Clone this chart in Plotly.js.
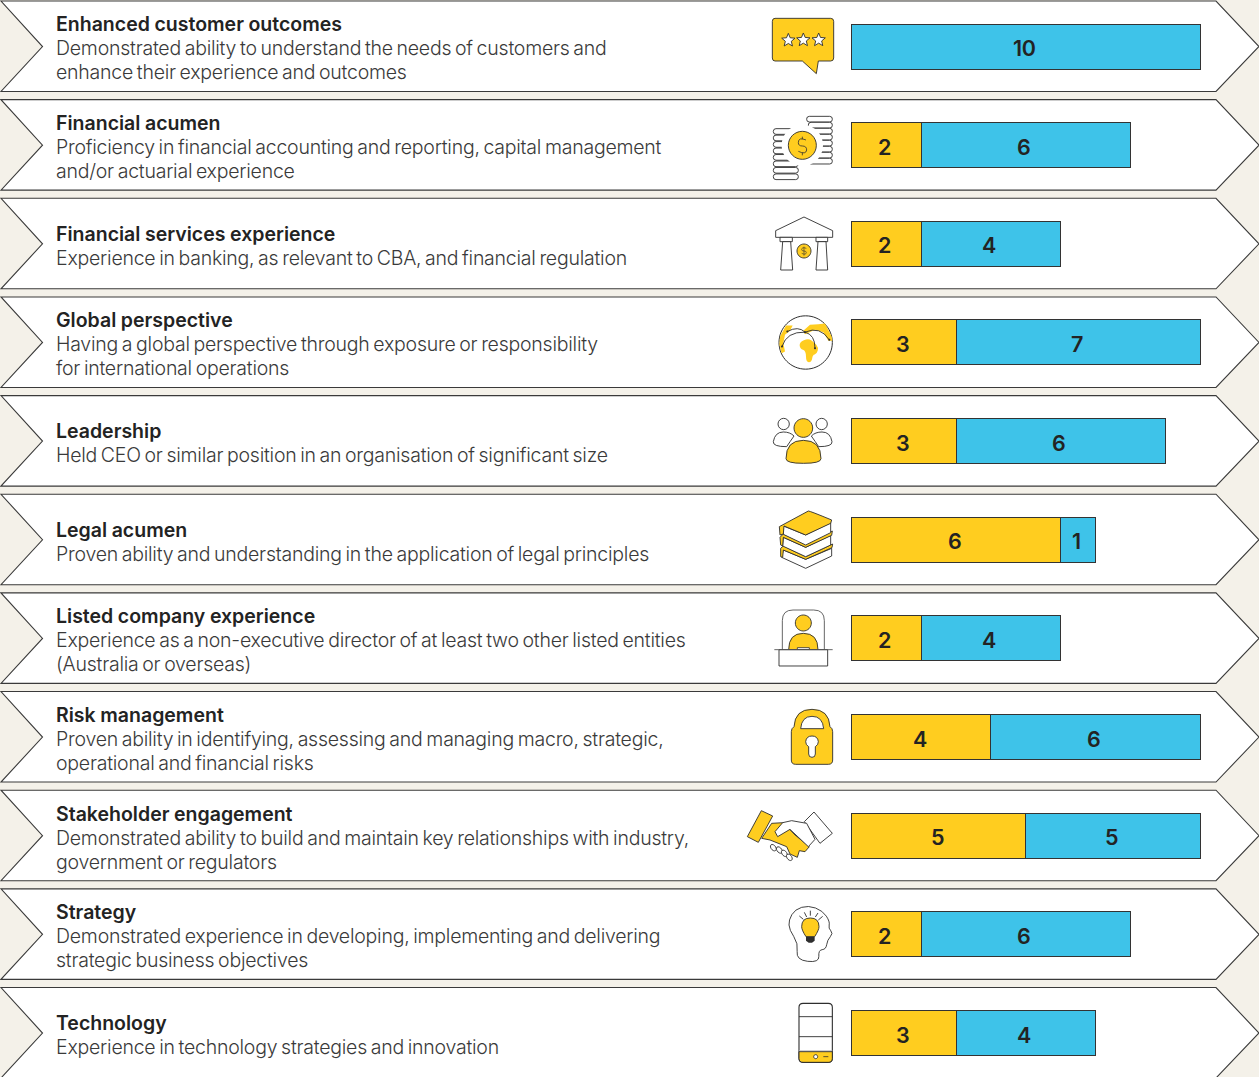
<!DOCTYPE html>
<html><head><meta charset="utf-8">
<script src="https://cdn.plot.ly/plotly-3.0.1.min.js"></script>
<style>html,body{margin:0;padding:0;background:#F4F1E9;overflow:hidden}
.annotation-text{letter-spacing:-0.23px;word-spacing:-1.5px}</style>
</head><body><div id="chart" style="width:1259px;height:1077px"></div>
<script>
const categories=["Enhanced customer outcomes","Financial acumen","Financial services experience","Global perspective","Leadership","Legal acumen","Listed company experience","Risk management","Stakeholder engagement","Strategy","Technology"];
const goldValues=[null,2,2,3,3,6,2,4,5,2,3];
const blueValues=[10,6,4,7,6,1,4,6,5,6,4];
const descLine1=["Demonstrated ability to understand the needs of customers and","Proficiency in financial accounting and reporting, capital management","Experience in banking, as relevant to CBA, and financial regulation","Having a global perspective through exposure or responsibility","Held CEO or similar position in an organisation of significant size","Proven ability and understanding in the application of legal principles","Experience as a non-executive director of at least two other listed entities","Proven ability in identifying, assessing and managing macro, strategic,","Demonstrated ability to build and maintain key relationships with industry,","Demonstrated experience in developing, implementing and delivering","Experience in technology strategies and innovation"];
const descLine2=["enhance their experience and outcomes","and/or actuarial experience","","for international operations","","","(Australia or overseas)","operational and financial risks","government or regulators","strategic business objectives",""];

const W=1259,H=1077,GOLD='#FFCD1F',BLUE='#3EC3E9',INK='#2E2E2E',FONT='Inter, Arial, sans-serif';
const ROW_PITCH=98.65,ROW_TOP=1,ROW_H=90.5,BAR_CENTRE=46.5,UNIT=34.85,BAR_X0=851.5;
const shapes=[],annotations=[];
const none='rgba(0,0,0,0)';
function conv(d,ox,oy,s){
  const t=d.match(/[MLCQZ]|-?[\d.]+/g);let out='',isX=true;
  for(const k of t){
    if(/[MLCQZ]/.test(k)){out+=k;isX=true;continue;}
    const v=parseFloat(k);
    if(isX){out+=((ox+v*s)/W).toFixed(5)+',';}else{out+=(1-(oy+v*s)/H).toFixed(5)+' ';}
    isX=!isX;
  }
  return out;
}
function add(o,d,fill,lw,col){
  shapes.push({type:'path',xref:'paper',yref:'paper',layer:'below',path:conv(d,o[0],o[1],o[2]),
    fillcolor:fill||none,line:{color:col||INK,width:lw===undefined?.9:lw}});
}
function circ(cx,cy,r,ry){ry=ry||r;const k=.5523;return `M${cx-r} ${cy}C${cx-r} ${cy-k*ry} ${cx-k*r} ${cy-ry} ${cx} ${cy-ry}C${cx+k*r} ${cy-ry} ${cx+r} ${cy-k*ry} ${cx+r} ${cy}C${cx+r} ${cy+k*ry} ${cx+k*r} ${cy+ry} ${cx} ${cy+ry}C${cx-k*r} ${cy+ry} ${cx-r} ${cy+k*ry} ${cx-r} ${cy}Z`;}
function rrect(x0,y0,x1,y1,r){return `M${x0+r} ${y0}L${x1-r} ${y0}Q${x1} ${y0} ${x1} ${y0+r}L${x1} ${y1-r}Q${x1} ${y1} ${x1-r} ${y1}L${x0+r} ${y1}Q${x0} ${y1} ${x0} ${y1-r}L${x0} ${y0+r}Q${x0} ${y0} ${x0+r} ${y0}Z`;}
function poly(p){return 'M'+p.map(q=>q.join(' ')).join('L')+'Z';}
function smooth(p){const n=p.length,m=(a,b)=>[(a[0]+b[0])/2,(a[1]+b[1])/2];let s=m(p[n-1],p[0]);let d=`M${s[0]} ${s[1]}`;for(let i=0;i<n;i++){const e=m(p[i],p[(i+1)%n]);d+=`Q${p[i][0]} ${p[i][1]} ${e[0]} ${e[1]}`;}return d+'Z';}
function star(cx,cy,r){const p=[];for(let i=0;i<10;i++){const a=-Math.PI/2+i*Math.PI/5,q=i%2?r*.45:r;p.push([cx+q*Math.cos(a),cy+q*Math.sin(a)]);}return poly(p);}
function tiltEllipse(cx,cy,a,b,rot){const p=[];for(let i=0;i<14;i++){const t=i/14*2*Math.PI,x=a*Math.cos(t),y=b*Math.sin(t);p.push([cx+x*Math.cos(rot)-y*Math.sin(rot),cy+x*Math.sin(rot)+y*Math.cos(rot)]);}return poly(p);}

categories.forEach((c,i)=>{
  const t=ROW_TOP+i*ROW_PITCH,b=t+ROW_H,m=t+45.5;
  add([0,0,1],`M1 ${t}L1216 ${t}L1259 ${m}L1216 ${b}L1 ${b}L42.5 ${m}Z`,'#FFFFFF',1.1,'#3A3A3A');
  const lines=descLine2[i]?[descLine1[i],descLine2[i]]:[descLine1[i]];
  const y0=t+(lines.length===2?23.5:35.5);
  annotations.push({xref:'paper',yref:'paper',x:54/W,y:1-y0/H,xanchor:'left',yanchor:'middle',showarrow:false,
    text:'<span style="letter-spacing:0px;word-spacing:-0.3px">'+c+'</span>',font:{family:FONT,size:19.5,color:'#232323',weight:600}});
  lines.forEach((l,j)=>annotations.push({xref:'paper',yref:'paper',x:54/W,y:1-(y0+24*(j+1))/H,xanchor:'left',yanchor:'middle',showarrow:false,text:l,font:{family:FONT,size:19.5,color:'#3A3A3A',weight:300}}));
  const g=goldValues[i]||0,bl=blueValues[i];
  const lab=(x,v)=>annotations.push({xref:'x',yref:'y',x:x,y:c,xanchor:'center',yanchor:'middle',xshift:-1.5,yshift:-1.5,showarrow:false,text:String(v),font:{family:FONT,size:21.5,color:'#232323',weight:600}});
  if(goldValues[i])lab(g/2,g);
  lab(g+bl/2,bl);
});

let o=[740,0,1/3];
add(o,`M105 55L272 55Q281 55 281 64L281 174Q281 183 272 183L235 183L229 221L187 183L105 183Q97 183 97 174L97 64Q97 55 105 55Z`,GOLD);
[[145,121],[190,120],[236,120]].forEach(s=>add(o,star(s[0],s[1],21),'#FFFFFF',.9));
for(let k=0;k<8;k++)add(o,rrect(k?205:200,349+18*k,277,366+18*k,8),'#FFFFFF',.9);
for(let k=0;k<8;k++)add(o,rrect(100,386+19.4*k,175,386+19.4*k+17,8),'#FFFFFF',.9);
add(o,circ(187,436,62),'#FFFFFF',0);
add(o,circ(187,436,42),GOLD);
add(o,`M198 420Q175 410 175 428Q175 438 187 438Q200 438 200 450Q198 465 175 454M187 410L187 418M187 458L187 466`,none,.8);
add(o,poly([[107,692],[192,651],[278,692],[278,712],[107,712]]),'#FFFFFF');
add(o,poly([[120,712],[157,712],[157,725],[120,725]]),'#FFFFFF');
add(o,poly([[228,712],[263,712],[263,725],[228,725]]),'#FFFFFF');
add(o,poly([[128,725],[152,725],[158,810],[122,810]]),'#FFFFFF');
add(o,poly([[234,725],[258,725],[263,810],[228,810]]),'#FFFFFF');
add(o,circ(192,753,21),GOLD);
add(o,`M199 745Q185 740 185 749Q185 753 192 753Q199 753 199 758Q198 766 185 760M192 740L192 767`,none,.6);
// globe
o=[770,311.5,1/3];
add(o,circ(107,93,80),'#FFFFFF',1);
add(o,poly([[100,58],[120,40],[145,38],[165,36],[185,75],[187,88],[175,88],[160,62],[135,55],[105,68]]),GOLD,0);
add(o,poly([[28,100],[30,75],[48,42],[68,42],[60,58],[45,70],[40,95],[45,120],[35,125]]),GOLD,0);
add(o,smooth([[88,92],[115,80],[132,92],[146,108],[140,128],[128,130],[125,152],[108,152],[108,118],[90,112]]),GOLD,0);
add(o,`M36 105Q50 60 105 62`,none,.9);
add(o,`M52 60Q85 42 105 62`,none,.9);
add(o,`M105 62Q150 42 178 85`,none,.9);
add(o,`M105 62Q135 70 135 110`,none,.9);
[[36,105],[52,60],[105,62],[178,85],[135,110]].forEach(p=>add(o,circ(p[0],p[1],3),INK,0));
// people
o=[740,300,1/3];
add(o,`M100 425Q105 396 130 396Q150 396 162 408Q150 425 140 440Q98 440 100 425Z`,'#FFFFFF');
add(o,`M276 425Q271 396 246 396Q226 396 214 408Q226 425 236 440Q278 440 276 425Z`,'#FFFFFF');
add(o,circ(131,372,17),'#FFFFFF');
add(o,circ(245,372,17),'#FFFFFF');
add(o,`M138 476Q138 421 190 421Q243 421 243 476Q243 490 190 490Q138 490 138 476Z`,GOLD);
add(o,circ(190,384,28),GOLD);
// books
add(o,poly([[130,750],[197,778],[275,745],[275,768],[197,805],[125,772]]),'#FFFFFF');
add(o,poly([[122,745],[130,738],[197,770],[278,732],[276,743],[197,778],[130,750],[128,772],[122,770]]),GOLD,.9);
add(o,poly([[130,712],[197,742],[272,706],[272,735],[197,770],[128,738]]),'#FFFFFF');
add(o,poly([[120,712],[130,702],[197,732],[277,693],[275,706],[197,742],[130,712],[128,738],[122,735]]),GOLD,.9);
add(o,poly([[130,703],[197,735],[272,698],[272,668],[197,705],[130,678]]),'#FFFFFF');
add(o,`M118 680L205 633Q210 633 275 660L272 670L197 705L132 678L130 702L120 705Z`,GOLD,.9);
// listed company
o=[745,600,1/3];
add(o,`M112 149L112 62Q112 30 144 30L206 30Q238 30 238 62L238 149`,'#FFFFFF',.9,'#555');
add(o,circ(175,69,24),GOLD);
add(o,`M131 149Q131 100 175 100Q219 100 219 149Z`,GOLD);
add(o,poly([[157,143],[193,143],[193,149],[157,149]]),'#FFFFFF',.8);
add(o,poly([[102,149],[248,149],[248,198],[102,198]]),'#FFFFFF');
add(o,`M88 149L263 149`,none,.9,'#555');
// lock
add(o,`M139 480L139 395Q139 385 147 380Q150 328 201 328Q252 328 255 380Q263 385 263 395L263 480Q263 493 250 493L152 493Q139 493 139 480Z`,GOLD);
add(o,`M167 386Q170 349 201 349Q233 349 236 386Z`,'#FFFFFF');
add(o,`M191 440Q182 435 182 425Q184 408 201 408Q218 408 220 425Q220 435 211 440L211 462Q211 472 201 472Q191 472 191 462Z`,'#FFFFFF');
// handshake
o=[740,780,1/3];
add(o,poly([[95,130],[130,128],[165,165],[208,200],[195,215],[178,212],[172,232],[150,222],[140,200],[90,180],[65,175]]),GOLD,.9);
add(o,poly([[64,92],[98,108],[55,187],[22,170]]),GOLD,.9);
add(o,poly([[222,96],[277,160],[240,190],[193,125]]),'#FFFFFF',.9);
add(o,poly([[200,130],[155,122],[128,128],[105,155],[113,170],[150,148],[205,200],[225,178]]),'#FFFFFF',.9);
[[100,203],[118,210],[133,220],[148,232]].forEach(p=>add(o,tiltEllipse(p[0],p[1],11,7,.9),'#FFFFFF',.9));
// head and bulb
add(o,smooth([[168,540],[175,490],[148,450],[146,420],[165,388],[205,376],[248,392],[270,425],[265,445],[280,460],[262,480],[258,508],[235,510],[238,548]]),'#FFFFFF',.9);
add(o,`M198 470Q185 450 185 440Q185 414 211 414Q237 414 237 440Q237 450 224 470Z`,GOLD);
add(o,`M198 470L224 470L224 482L216 488L206 488L198 482Z`,INK,0);
add(o,`M178 408L190 418M193 397L200 411M211 392L211 407M234 399L226 411M248 409L235 420`,none,.9);
// phone
add(o,rrect(177,670,277,847,12),'#FFFFFF',1.1);
add(o,`M177 815L277 815L277 835Q277 847 265 847L189 847Q177 847 177 835Z`,GOLD,1);
add(o,`M177 710L277 710M177 770L277 770`,none,.9);
add(o,`M177 812L277 812`,none,.8,'#BBB');
add(o,circ(227,830,6),'#FFFFFF',.9);
add(o,`M250 830L265 830`,none,.8);

const common={type:'bar',orientation:'h',y:categories,width:45/ROW_PITCH,textposition:'none',cliponaxis:false,hoverinfo:'skip',showlegend:false};
const traces=[
  Object.assign({},common,{name:'Gold',x:goldValues,marker:{color:GOLD,line:{color:'#333',width:1}}}),
  Object.assign({},common,{name:'Blue',x:blueValues,marker:{color:BLUE,line:{color:'#333',width:1}}})
];
const layout={width:W,height:H,margin:{l:0,r:0,t:0,b:0,pad:0},paper_bgcolor:'#F4F1E9',plot_bgcolor:'rgba(0,0,0,0)',
  barmode:'stack',showlegend:false,shapes,annotations,
  xaxis:{visible:false,fixedrange:true,range:[-BAR_X0/UNIT,(W-BAR_X0)/UNIT]},
  yaxis:{visible:false,fixedrange:true,type:'category',categoryorder:'array',categoryarray:categories,
    range:[(H-BAR_CENTRE)/ROW_PITCH,-BAR_CENTRE/ROW_PITCH]}};
Plotly.newPlot('chart',traces,layout,{displayModeBar:false,staticPlot:true});
</script></body></html>
